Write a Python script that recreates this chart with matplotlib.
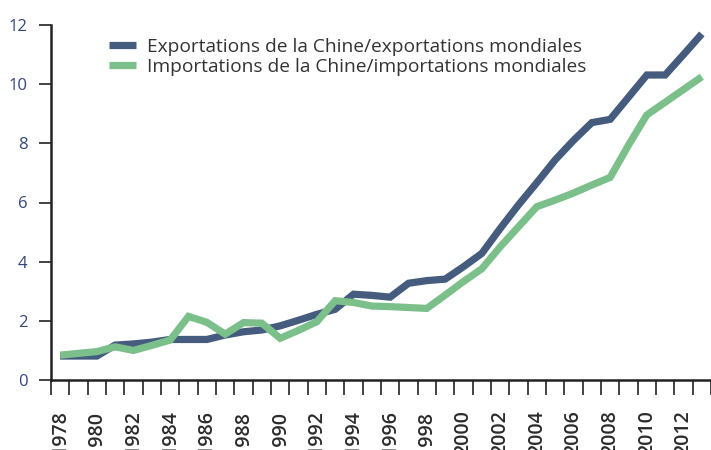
import matplotlib
matplotlib.use("Agg")
import matplotlib.pyplot as plt
import numpy as np

# ---------------- data (share of world trade, %) ----------------
years = list(range(1978, 2014))
exports_share = [0.81, 0.81, 0.81, 1.18, 1.22, 1.28, 1.37, 1.37, 1.37, 1.52,
                 1.63, 1.69, 1.83, 2.02, 2.22, 2.39, 2.90, 2.86, 2.80, 3.27,
                 3.36, 3.41, 3.83, 4.28, 5.12, 5.92, 6.67, 7.44, 8.10, 8.70,
                 8.81, 9.56, 10.31, 10.31, 11.00, 11.70]
imports_share = [0.84, 0.90, 0.96, 1.12, 1.00, 1.17, 1.35, 2.15, 1.95, 1.55,
                 1.94, 1.92, 1.41, 1.68, 1.97, 2.68, 2.62, 2.50, 2.48, 2.45,
                 2.42, 2.87, 3.33, 3.76, 4.50, 5.18, 5.86, 6.08, 6.32, 6.59,
                 6.85, 7.94, 8.96, 9.39, 9.82, 10.25]
labels = ["Exportations de la Chine/exportations mondiales",
          "Importations de la Chine/importations mondiales"]

BLUE = "#465c7e"
GREEN = "#7bc08a"
FONT = "Open Sans"

fig = plt.figure(figsize=(7.11, 4.5), dpi=100)
ax = fig.add_axes([51 / 711, 70 / 450, 660 / 711, 355 / 450])

x = np.arange(len(years))
ax.plot(x, exports_share, color=BLUE, lw=5.2, solid_joinstyle="miter",
        solid_capstyle="butt", label=labels[0], zorder=3)
ax.plot(x, imports_share, color=GREEN, lw=5.2, solid_joinstyle="miter",
        solid_capstyle="butt", label=labels[1], zorder=3)

ax.set_xlim(-0.5, len(years) - 0.5)
ax.set_ylim(0, 12)

# spines
for s in ["top", "right"]:
    ax.spines[s].set_visible(False)
for s in ["left", "bottom"]:
    ax.spines[s].set_linewidth(1.8)
    ax.spines[s].set_color("#222222")

# y axis
ax.set_yticks(range(0, 13, 2))
ax.tick_params(axis="y", length=9, width=1.2, color="#222222", pad=8,
               labelsize=12, labelcolor="#34477a")
for t in ax.get_yticklabels():
    t.set_fontfamily(FONT)

# x axis: tick marks between categories, labels every other year
ax.set_xticks(np.arange(-0.5, len(years), 1.0), minor=True)
ax.set_xticks(x[::2])
ax.set_xticklabels([str(y) for y in years[::2]], rotation=90,
                   fontfamily=FONT, fontweight="semibold", fontsize=14,
                   color="#2b2b2b")
ax.tick_params(axis="x", which="major", length=0, pad=22)
ax.tick_params(axis="x", which="minor", length=11, width=1.2, color="#222222")

# legend: size the font so the first line is ~433 px wide like the reference
leg_size = 13
r = fig.canvas.get_renderer()
probe = fig.text(0, 0, labels[0], family=FONT, size=leg_size)
w = probe.get_window_extent(r).width
probe.remove()
leg_size = leg_size * 433 / w

leg = ax.legend(loc="upper left", bbox_to_anchor=(101 / 711, 1 - 30 / 450),
                bbox_transform=fig.transFigure, frameon=False,
                handlelength=1.45, handletextpad=0.55, labelspacing=0.1,
                borderaxespad=0, prop={"family": FONT, "size": leg_size})
for t in leg.get_texts():
    t.set_color("#333333")
for h in leg.get_lines():
    h.set_linewidth(5.2)

fig.savefig("out.png", dpi=100)
